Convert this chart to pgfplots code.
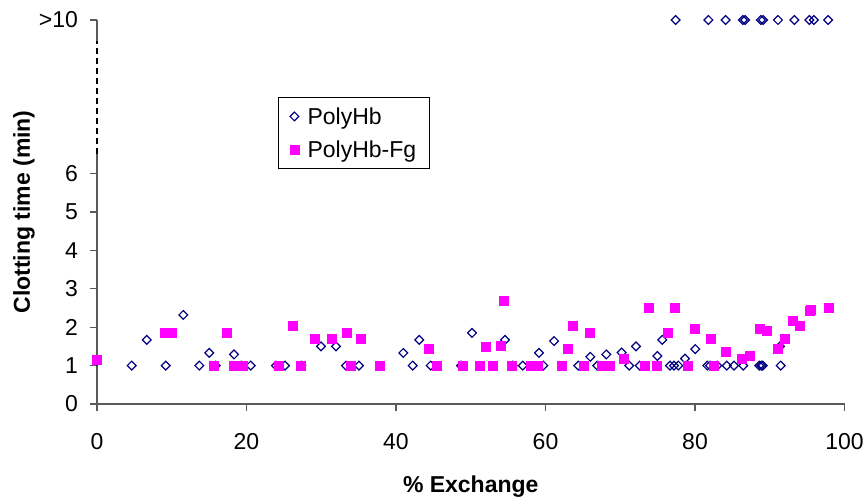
\documentclass[border=0pt]{standalone}
\usepackage{fontspec}
\setmainfont{Liberation Sans}
\usepackage{pgfplots}
\pgfplotsset{compat=1.18}
\definecolor{navyc}{HTML}{000080}
\definecolor{magc}{HTML}{FF00FF}
\definecolor{axc}{HTML}{5A5A5A}
\begin{document}
\begin{tikzpicture}
\path[use as bounding box] (-97pt,-93pt) rectangle (770pt,404pt);
\begin{axis}[
  at={(0pt,0pt)}, anchor=south west,
  scale only axis, width=747.5pt, height=384pt,
  xmin=0, xmax=100, ymin=0, ymax=10,
  clip=false,
  axis x line=bottom, axis y line=left,
  axis line style={-, draw=axc, line width=1.2pt},
  y axis line style={draw=none},
  tick align=outside,
  major tick length=7.5pt,
  tick style={draw=axc, line width=1.2pt},
  xtick={0,20,40,60,80,100},
  xticklabels={0,20,40,60,80,100},
  ytick={0,1,2,3,4,5,6,10},
  yticklabels={0,1,2,3,4,5,6,{>10}},
  tick label style={font=\fontsize{23}{27}\selectfont},
  xticklabel style={yshift=-18pt},
  yticklabel style={xshift=-8pt},
  xlabel={\bfseries \% Exchange},
  ylabel={\bfseries Clotting time (min)},
  every axis x label/.style={at={(axis description cs:0.5,-0.216)},anchor=center,font=\fontsize{23}{27}\selectfont},
  every axis y label/.style={at={(axis description cs:-0.0977,0.5)},rotate=90,anchor=center,font=\fontsize{23}{27}\selectfont},
  legend style={at={(axis description cs:0.2421,0.7995)}, anchor=north west,
    draw=black, line width=0.8pt, inner xsep=11.6pt, inner ysep=8pt,
    row sep=11pt, column sep=6.6pt,
    font=\fontsize{23}{27}\selectfont},
  legend cell align=left,
]
\addplot[only marks, mark=square, mark size=3.1pt,
  mark options={rotate=45, draw=navyc, fill=none, line width=1.2pt}]
  table {
x y
0 1.12
4.64 1
9.19 1
13.69 1
15.88 1
19.30 1
20.56 1
23.95 1
25.15 1
27.33 1
33.31 1
35.05 1
42.23 1
44.64 1
48.70 1
55.61 1
56.95 1
59.71 1
64.39 1
66.93 1
71.21 1
72.60 1
76.66 1
77.19 1
77.77 1
81.65 1
82.01 1
82.98 1
84.24 1
85.22 1
86.46 1
88.60 1
88.87 1
89.06 1
91.46 1
6.65 1.67
11.55 2.32
15.02 1.33
18.33 1.29
29.97 1.50
31.97 1.50
40.98 1.33
43.12 1.67
50.17 1.85
54.58 1.67
59.13 1.33
61.14 1.64
65.99 1.23
68.13 1.29
70.19 1.34
72.11 1.50
74.96 1.25
75.63 1.67
78.66 1.18
80.04 1.43
91.37 1.50
77.4 10
81.8 10
84.1 10
86.4 10
86.7 10
88.8 10
89.1 10
91.1 10
93.3 10
95.3 10
95.9 10
97.8 10
};
\addlegendentry{PolyHb}
\addplot[only marks, mark=square*, mark size=4.5pt,
  mark options={draw=magc, fill=magc, line width=0.4pt}]
  table {
x y
0 1.15
15.56 1.01
18.23 1.01
19.49 1.01
9.10 1.86
9.99 1.86
17.35 1.86
24.30 1.01
26.13 2.04
27.20 1.01
29.16 1.69
31.40 1.69
33.40 1.86
33.98 1.01
35.32 1.69
37.77 1.01
44.37 1.44
45.45 1.01
48.92 1.01
51.14 1.01
52.04 1.48
52.88 1.01
54.45 2.68
54.01 1.52
55.52 1.01
58.06 1.01
58.90 1.01
62.17 1.01
63.01 1.44
63.68 2.04
65.15 1.01
65.86 1.86
67.52 1.01
68.54 1.01
70.46 1.18
73.31 1.01
73.75 2.51
74.88 1.01
76.39 1.86
77.28 2.51
79.02 1.01
79.91 1.95
82.10 1.69
82.54 1.01
84.05 1.35
86.29 1.18
87.36 1.25
88.70 1.95
89.59 1.91
91.10 1.44
91.95 1.69
93.07 2.17
93.95 2.04
95.29 2.42
95.48 2.45
97.93 2.51
};
\addlegendentry{PolyHb-Fg}
\draw[axc, line width=1.2pt] (axis cs:0,0) -- (axis cs:0,6.5);
\draw[axc, line width=1.2pt] (axis cs:0,9.45) -- (axis cs:0,10);
\draw[black, line width=1.3pt, dash pattern=on 6pt off 4pt] (axis cs:0,6.5) -- (axis cs:0,9.45);
\end{axis}
\end{tikzpicture}
\end{document}
